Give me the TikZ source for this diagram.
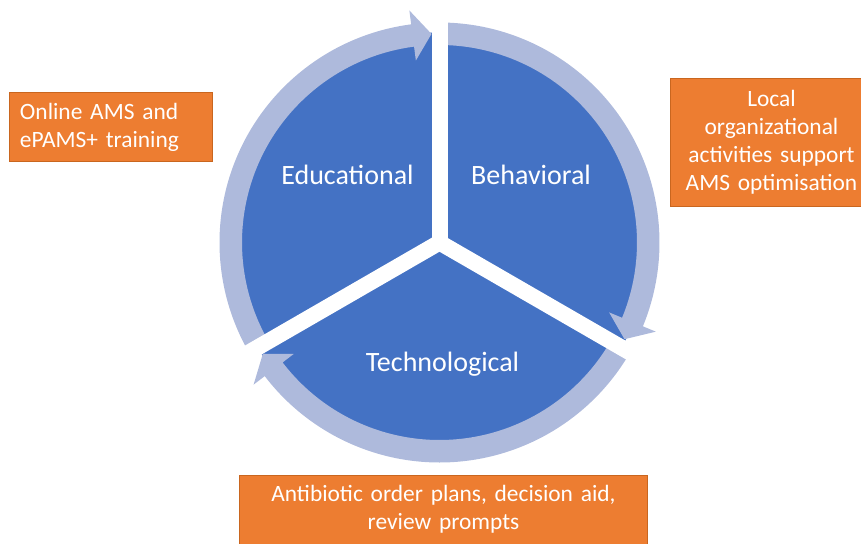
\documentclass[tikz,border=0pt]{standalone}
\usepackage{fontspec}
\setmainfont{Carlito}
\definecolor{segblue}{HTML}{4472C4}
\definecolor{ringblue}{HTML}{AEBADC}
\definecolor{boxorange}{HTML}{ED7D31}
\definecolor{boxedge}{HTML}{C9661F}
\newcommand\cyclearrow[3]{% start angle, arrowhead base angle, tip angle
  \fill[ringblue] (#1:220) arc[start angle=#1, end angle=#2, radius=220]
    -- (#2:234) -- (#3:208.75) -- (#2:183.5) -- (#2:197.5)
    arc[start angle=#2, end angle=#1, radius=197.5] -- cycle;}
\begin{document}
\begin{tikzpicture}[x=1pt,y=1pt,
  seglabel/.style={text=white, font=\fontsize{28}{32}\selectfont, anchor=base, inner sep=0pt},
  obox/.style={fill=boxorange, draw=boxedge, line width=0.8pt, text=white,
    font=\fontsize{23.4}{28}\selectfont, inner ysep=0pt, align=center},
  gapband/.style={draw=white, line width=16pt}
]
\path[use as bounding box] (-439.5,-300.5) rectangle (421.5,242.5);
\clip (-439.5,-300.5) rectangle (421.5,242.5);
% segments
\fill[segblue] (0,0) circle (210);
% cycle arrows
\cyclearrow{210}{97.4}{92.2}
\cyclearrow{90}{-22.4}{-27.6}
\cyclearrow{330}{217.4}{212.2}
% gaps
\draw[gapband] (0,0) -- (90:260);
\draw[gapband] (0,0) -- (-30:260);
\draw[gapband] (0,0) -- (210:260);
\fill[white] (0,0) circle (8);
% labels
\node[seglabel] (edu) at (-92,57.5) {Educational};
\node[seglabel] (beh) at (91.5,57.5) {Behavioral};
\node[seglabel] (tech) at (3,-129.2) {Technological};
% boxes
\node[obox, align=left, text width=182pt, inner xsep=10.7pt, minimum height=69pt]
  (trainbox) at (-328.5,115.3) {Online AMS and\\ePAMS+ training};
\node[obox, text width=183pt, inner xsep=10pt, minimum height=128.4pt]
  (orgbox) at (332,100) {Local\\organizational\\activities support\\AMS optimisation};
\node[obox, text width=388pt, inner xsep=10pt, minimum height=69pt]
  (techbox) at (4,-267) {Antibiotic order plans, decision aid,\\review prompts};
\end{tikzpicture}
\end{document}
